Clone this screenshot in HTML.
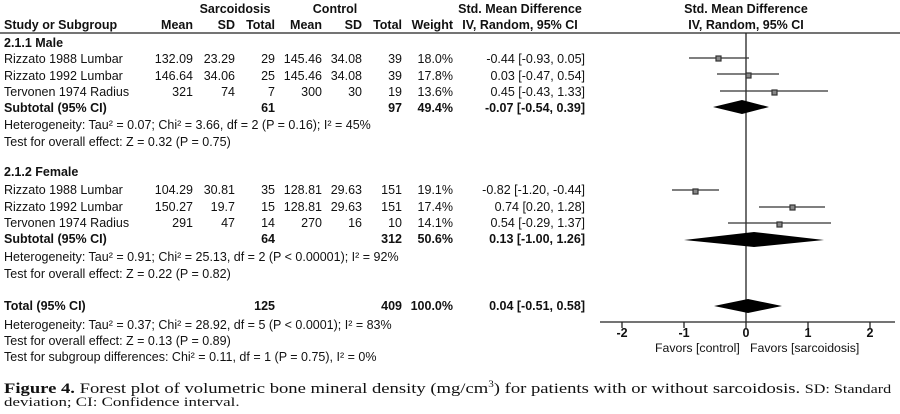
<!DOCTYPE html>
<html><head><style>
body{margin:0;width:900px;height:414px;background:#fff;overflow:hidden;font-family:"Liberation Sans",Arial,sans-serif;color:#111}
.t{position:absolute;font-size:12.5px;white-space:nowrap;line-height:14px}
.b{font-weight:bold}
.r{text-align:right}
.cap{position:absolute;font-family:"Liberation Serif",serif;font-size:15px;white-space:nowrap;transform-origin:0 0;line-height:17px}
</style></head><body>
<svg width="900" height="414" style="position:absolute;left:0;top:0">
<line x1="0" y1="33" x2="900" y2="33" stroke="#222" stroke-width="1.3"/>
<line x1="746" y1="33" x2="746" y2="322" stroke="#222" stroke-width="1.3"/>
<line x1="600" y1="322" x2="895" y2="322" stroke="#222" stroke-width="1.3"/>
<g stroke="#222" stroke-width="1.3">
<line x1="622" y1="322" x2="622" y2="328"/><line x1="684" y1="322" x2="684" y2="328"/><line x1="746" y1="322" x2="746" y2="328"/><line x1="808" y1="322" x2="808" y2="328"/><line x1="870" y1="322" x2="870" y2="328"/>
</g>
<g stroke="#333" stroke-width="1.2" fill="#888">
<line x1="689" y1="58" x2="749" y2="58"/><rect x="716" y="56" width="5" height="5"/>
<line x1="717" y1="74" x2="779" y2="74"/><rect x="746" y="73" width="5" height="5"/>
<line x1="720" y1="91" x2="828" y2="91"/><rect x="772" y="90" width="5" height="5"/>
<line x1="672" y1="190" x2="719" y2="190"/><rect x="693" y="189" width="5" height="5"/>
<line x1="759" y1="207" x2="825" y2="207"/><rect x="790" y="205" width="5" height="5"/>
<line x1="728" y1="223" x2="831" y2="223"/><rect x="777" y="222" width="5" height="5"/>
</g>
<polygon points="713,107 742,100 769,107 742,114" fill="#000"/>
<polygon points="684,240 754,232 824,240 754,247" fill="#000"/>
<polygon points="714,306 748,299 782,306 748,313" fill="#000"/>
</svg>
<div class="t b" style="left:173px;width:124px;text-align:center;top:2px">Sarcoidosis</div>
<div class="t b" style="left:290px;width:90px;text-align:center;top:2px">Control</div>
<div class="t b" style="left:440px;width:160px;text-align:center;top:2px">Std. Mean Difference</div>
<div class="t b" style="left:666px;width:160px;text-align:center;top:2px">Std. Mean Difference</div>
<div class="t b" style="left:440px;width:160px;text-align:center;top:18px">IV, Random, 95% CI</div>
<div class="t b" style="left:666px;width:160px;text-align:center;top:18px">IV, Random, 95% CI</div>
<div id="rows"></div>
<div class="t b" style="left:612px;top:326px;width:20px;text-align:center">-2</div>
<div class="t b" style="left:674px;top:326px;width:20px;text-align:center">-1</div>
<div class="t b" style="left:736px;top:326px;width:20px;text-align:center">0</div>
<div class="t b" style="left:798px;top:326px;width:20px;text-align:center">1</div>
<div class="t b" style="left:860px;top:326px;width:20px;text-align:center">2</div>
<div class="t" style="left:655px;top:341px;font-size:12.3px">Favors [control]&nbsp;&nbsp; Favors [sarcoidosis]</div>
<div class="cap" style="left:4px;top:376px;transform:scaleX(1.24)"><b>Figure 4.</b> Forest plot of volumetric bone mineral density (mg/cm<sup style="font-size:9px">3</sup>) for patients with or without sarcoidosis. <span style="font-size:13px">SD: Standard</span></div>
<div class="cap" style="left:4px;top:393px;font-size:13px;transform:scaleX(1.3)">deviation; CI: Confidence interval.</div>
<script>
var R=[
[18,'b',['Study or Subgroup','Mean','SD','Total','Mean','SD','Total','Weight']],
[36,'b',['2.1.1 Male']],
[52,'',['Rizzato 1988 Lumbar','132.09','23.29','29','145.46','34.08','39','18.0%','-0.44 [-0.93, 0.05]']],
[69,'',['Rizzato 1992 Lumbar','146.64','34.06','25','145.46','34.08','39','17.8%','0.03 [-0.47, 0.54]']],
[85,'',['Tervonen 1974 Radius','321','74','7','300','30','19','13.6%','0.45 [-0.43, 1.33]']],
[101,'b',['Subtotal (95% CI)','','','61','','','97','49.4%','-0.07 [-0.54, 0.39]']],
[118,'',['Heterogeneity: Tau² = 0.07; Chi² = 3.66, df = 2 (P = 0.16); I² = 45%']],
[135,'',['Test for overall effect: Z = 0.32 (P = 0.75)']],
[165,'b',['2.1.2 Female']],
[183,'',['Rizzato 1988 Lumbar','104.29','30.81','35','128.81','29.63','151','19.1%','-0.82 [-1.20, -0.44]']],
[200,'',['Rizzato 1992 Lumbar','150.27','19.7','15','128.81','29.63','151','17.4%','0.74 [0.20, 1.28]']],
[216,'',['Tervonen 1974 Radius','291','47','14','270','16','10','14.1%','0.54 [-0.29, 1.37]']],
[232,'b',['Subtotal (95% CI)','','','64','','','312','50.6%','0.13 [-1.00, 1.26]']],
[250,'',['Heterogeneity: Tau² = 0.91; Chi² = 25.13, df = 2 (P < 0.00001); I² = 92%']],
[267,'',['Test for overall effect: Z = 0.22 (P = 0.82)']],
[299,'b',['Total (95% CI)','','','125','','','409','100.0%','0.04 [-0.51, 0.58]']],
[318,'',['Heterogeneity: Tau² = 0.37; Chi² = 28.92, df = 5 (P < 0.0001); I² = 83%']],
[334,'',['Test for overall effect: Z = 0.13 (P = 0.89)']],
[350,'',['Test for subgroup differences: Chi² = 0.11, df = 1 (P = 0.75), I² = 0%']]];
var RE=[null,193,235,275,322,362,402,453,585];
var h='';
R.forEach(function(r){var y=r[0],c=r[2];
 h+='<div class="t '+r[1]+'" style="left:4px;top:'+y+'px">'+c[0]+'</div>';
 for(var i=1;i<9&&i<c.length;i++){if(c[i])h+='<div class="t '+r[1]+' r" style="right:'+(900-RE[i])+'px;top:'+y+'px">'+c[i]+'</div>';}
});
document.getElementById('rows').innerHTML=h;
</script>
</body></html>
